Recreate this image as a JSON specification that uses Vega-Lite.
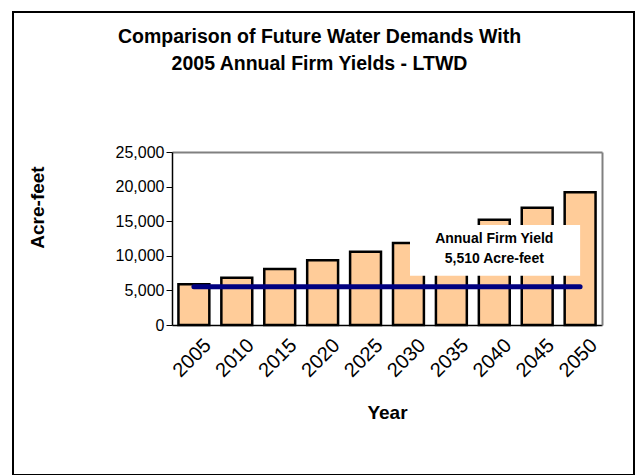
{
  "$schema": "https://vega.github.io/schema/vega-lite/v6.json",
  "width": 621,
  "height": 463,
  "autosize": "none",
  "padding": {"left": 13, "top": 12, "right": 5, "bottom": 0},
  "background": "white",
  "config": {
    "font": "Liberation Sans",
    "view": {"stroke": "black", "strokeWidth": 2},
    "axis": {"grid": false, "labelColor": "black", "titleColor": "black", "labelFont": "Liberation Sans", "titleFont": "Liberation Sans"}
  },
  "title": {
    "text": ["Comparison of Future Water Demands With", "2005 Annual Firm Yields - LTWD"],
    "font": "Liberation Sans",
    "fontSize": 19.5,
    "fontWeight": "bold",
    "color": "black",
    "anchor": "middle",
    "frame": "group",
    "lineHeight": 27,
    "offset": -62,
    "dx": -4
  },
  "datasets": {
    "demand": [
      {"Year": "2005", "Demand": 5900, "FirmYield": 5510},
      {"Year": "2010", "Demand": 6830, "FirmYield": 5510},
      {"Year": "2015", "Demand": 8090, "FirmYield": 5510},
      {"Year": "2020", "Demand": 9350, "FirmYield": 5510},
      {"Year": "2025", "Demand": 10600, "FirmYield": 5510},
      {"Year": "2030", "Demand": 11850, "FirmYield": 5510},
      {"Year": "2035", "Demand": 13500, "FirmYield": 5510},
      {"Year": "2040", "Demand": 15200, "FirmYield": 5510},
      {"Year": "2045", "Demand": 16950, "FirmYield": 5510},
      {"Year": "2050", "Demand": 19200, "FirmYield": 5510}
    ],
    "note": [
      {"label": "Annual Firm Yield\n5,510 Acre-feet"}
    ]
  },
  "layer": [
    {
      "data": {"name": "demand"},
      "mark": {"type": "bar", "fill": "#FFCC99", "stroke": "black", "strokeWidth": 2.5},
      "encoding": {
        "x": {
          "field": "Year", "type": "ordinal",
          "scale": {"domain": ["2005","2010","2015","2020","2025","2030","2035","2040","2045","2050"], "range": [159, 589], "paddingInner": 0.28, "paddingOuter": 0.15},
          "axis": {"orient": "bottom", "offset": -150, "title": "Year", "titleFontSize": 19, "titleFontWeight": "bold", "titlePadding": 23, "labelAngle": -45, "labelAlign": "right", "labelBaseline": "middle", "labelFontSize": 20, "labelPadding": 17, "labelOffset": 14, "ticks": false, "domainColor": "black", "domainWidth": 1.5}
        },
        "y": {
          "field": "Demand", "type": "quantitative",
          "scale": {"domain": [0, 25000], "range": [313, 140], "nice": false},
          "axis": {"orient": "left", "offset": -159, "title": "Acre-feet", "titleFontSize": 19, "titleFontWeight": "bold", "titlePadding": 68, "titleY": 195, "values": [0, 5000, 10000, 15000, 20000, 25000], "format": ",.0f", "labelFontSize": 16, "labelPadding": 2, "tickSize": 6, "tickColor": "black", "domainColor": "black", "domainWidth": 1.5}
        }
      }
    },
    {
      "data": {"name": "demand"},
      "mark": {"type": "line", "color": "#000080", "strokeWidth": 5, "strokeCap": "round"},
      "encoding": {
        "x": {"field": "Year", "type": "ordinal", "axis": {"orient": "top", "offset": -140, "title": null, "labels": false, "ticks": false, "domainColor": "#808080", "domainWidth": 2}},
        "y": {"field": "FirmYield", "type": "quantitative", "axis": {"orient": "right", "offset": -32, "title": null, "labels": false, "ticks": false, "domainColor": "#808080", "domainWidth": 2}}
      }
    },
    {
      "data": {"name": "note"},
      "mark": {"type": "rect", "fill": "white"},
      "encoding": {
        "x": {"datum": "2030", "type": "ordinal", "bandPosition": 0.55, "axis": null},
        "x2": {"datum": "2050", "bandPosition": 0.5},
        "y": {"datum": 7100, "type": "quantitative", "axis": null},
        "y2": {"datum": 14450}
      }
    },
    {
      "data": {"name": "note"},
      "mark": {"type": "text", "font": "Liberation Sans", "fontSize": 14, "fontWeight": "bold", "color": "black", "lineBreak": "\n", "lineHeight": 20, "align": "center", "baseline": "middle"},
      "encoding": {
        "x": {"datum": "2040", "type": "ordinal", "axis": null},
        "y": {"datum": 12500, "type": "quantitative", "axis": null},
        "text": {"field": "label"}
      }
    }
  ],
  "resolve": {"axis": {"x": "independent", "y": "independent"}}
}
